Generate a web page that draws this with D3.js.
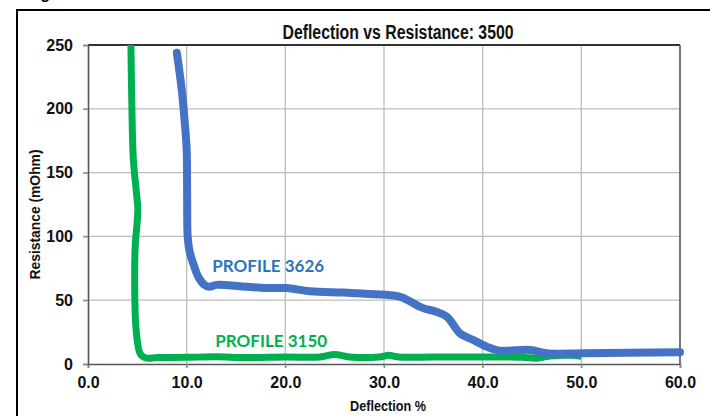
<!DOCTYPE html>
<html>
<head>
<meta charset="utf-8">
<script src="https://cdn.jsdelivr.net/npm/d3@7"></script>
<style>
  body { margin: 0; background: #fff; }
  svg { display: block; }
</style>
</head>
<body>
<div id="chart"></div>
<script>
// Chart values
var title = "Deflection vs Resistance: 3500";
var xTicks = [0, 10, 20, 30, 40, 50, 60];
var yTicks = [0, 50, 100, 150, 200, 250];

// PROFILE 3150 (green)
var greenX = [4.35, 4.45, 4.6, 4.9, 5.05, 4.95, 4.8, 4.75, 4.9, 5.3, 5.9, 7, 10, 13, 16, 20, 23.5, 25, 26.5, 29.5, 30.5, 31.5, 35, 40, 44, 45.5, 47, 49, 50];
var greenY = [250, 200, 160, 135, 122, 108, 95, 50, 25, 8, 4.7, 5, 5.2, 5.6, 5, 5.5, 5.5, 7.5, 5.5, 5.5, 6.8, 5.5, 5.5, 5.5, 5.3, 4.6, 6.5, 6.8, 6];

// PROFILE 3626 (blue)
var blueX = [9.0, 9.5, 9.8, 10.0, 10.05, 10.1, 10.3, 10.7, 11.2, 11.8, 12.3, 13.0, 15.4, 18.1, 20.1, 22.5, 25.9, 28.2, 30.9, 31.9, 33.9, 35.3, 36.4, 37.7, 39.0, 40.4, 41.7, 44.8, 46.5, 50.2, 60];
var blueY = [244, 215, 190, 168, 130, 100, 88, 78, 68, 62, 60.5, 62, 61, 59.5, 59.5, 57, 56, 55, 53.7, 52, 44, 41, 37, 24, 19, 13.6, 10.5, 11, 8.4, 8.4, 9.2];

var seriesLabels = ["PROFILE 3626", "PROFILE 3150"];

var svgWidth = 710, svgHeight = 416;
var margin = { top: 45, right: 30, bottom: 52, left: 88 };
var width = 680 - margin.left;
var height = 364 - margin.top;

var svg = d3.select("#chart")
    .append("svg")
    .attr("width", svgWidth)
    .attr("height", svgHeight);

// outer frame (cut off at right and bottom)
svg.append("rect")
    .attr("x", 17).attr("y", 10)
    .attr("width", 720).attr("height", 440)
    .attr("fill", "none")
    .attr("stroke", "#000")
    .attr("stroke-width", 2);

// leftover descender of a caption above the frame
svg.append("text")
    .attr("x", 50).attr("y", -1)
    .attr("text-anchor", "end")
    .style("font-family", "Liberation Sans, Arial, sans-serif")
    .style("font-weight", "bold")
    .style("font-size", "16px")
    .text("Fig");

var g = svg.append("g")
    .attr("transform", "translate(" + margin.left + "," + margin.top + ")");

var xScale = d3.scaleLinear().domain([0, 60]).range([0, width]);
var yScale = d3.scaleLinear().domain([0, 250]).range([height, 0]);

var axisFont = "'Liberation Sans Narrow', 'Arial Narrow', 'Liberation Sans', sans-serif";

// gridlines
g.append("g")
    .selectAll("line")
    .data(xTicks.slice(1, -1))
    .join("line")
    .attr("x1", function(d) { return xScale(d); })
    .attr("x2", function(d) { return xScale(d); })
    .attr("y1", 0).attr("y2", height + 4)
    .attr("stroke", "#bdbdbd").attr("stroke-width", 1.3);

g.append("g")
    .selectAll("line")
    .data(yTicks.slice(1, -1))
    .join("line")
    .attr("x1", -5).attr("x2", width)
    .attr("y1", function(d) { return yScale(d); })
    .attr("y2", function(d) { return yScale(d); })
    .attr("stroke", "#bdbdbd").attr("stroke-width", 1.3);

// frame of plot
g.append("line").attr("x1", 0).attr("x2", width).attr("y1", 0).attr("y2", 0)
    .attr("stroke", "#333").attr("stroke-width", 2);
g.append("line").attr("x1", width).attr("x2", width).attr("y1", 0).attr("y2", height)
    .attr("stroke", "#555").attr("stroke-width", 1.6);

// axes
var xAxis = d3.axisBottom(xScale)
    .tickValues(xTicks)
    .tickFormat(d3.format(".1f"))
    .tickSize(4)
    .tickPadding(9);
var xAxisGroup = g.append("g")
    .attr("transform", "translate(0," + height + ")")
    .call(xAxis);

var yAxis = d3.axisLeft(yScale)
    .tickValues(yTicks)
    .tickSize(5)
    .tickPadding(10);
var yAxisGroup = g.append("g").call(yAxis);

[xAxisGroup, yAxisGroup].forEach(function(ax) {
    ax.select(".domain").attr("stroke", "#555").attr("stroke-width", 1.6);
    ax.selectAll(".tick line").attr("stroke", "#888").attr("stroke-width", 1.3);
    ax.selectAll("text")
        .style("font-family", axisFont)
        .style("font-weight", "bold")
        .style("font-size", "16px")
        .attr("fill", "#111");
});

// title and axis titles (squeezed to look like a narrow face)
svg.append("text")
    .attr("x", 398).attr("y", 39)
    .attr("text-anchor", "middle")
    .attr("textLength", 231)
    .attr("lengthAdjust", "spacingAndGlyphs")
    .style("font-family", axisFont)
    .style("font-weight", "bold")
    .style("font-size", "20px")
    .attr("fill", "#111")
    .text(title);

svg.append("text")
    .attr("x", 388).attr("y", 411)
    .attr("text-anchor", "middle")
    .attr("textLength", 76)
    .attr("lengthAdjust", "spacingAndGlyphs")
    .style("font-family", axisFont)
    .style("font-weight", "bold")
    .style("font-size", "15px")
    .attr("fill", "#111")
    .text("Deflection %");

svg.append("text")
    .attr("transform", "translate(40," + (margin.top + height / 2 + 10) + ") rotate(-90)")
    .attr("text-anchor", "middle")
    .attr("textLength", 130)
    .attr("lengthAdjust", "spacingAndGlyphs")
    .style("font-family", axisFont)
    .style("font-weight", "bold")
    .style("font-size", "15px")
    .attr("fill", "#111")
    .text("Resistance (mOhm)");

// series lines
var line = d3.line()
    .x(function(d) { return xScale(d[0]); })
    .y(function(d) { return yScale(d[1]); })
    .curve(d3.curveCatmullRom.alpha(0.5));

var greenData = d3.zip(greenX, greenY);
var blueData = d3.zip(blueX, blueY);

g.append("path")
    .datum(greenData)
    .attr("d", line)
    .attr("fill", "none")
    .attr("stroke", "#00b050")
    .attr("stroke-width", 7)
    .attr("stroke-linejoin", "round")
    .attr("stroke-linecap", "butt");

g.append("path")
    .datum(blueData)
    .attr("d", line)
    .attr("fill", "none")
    .attr("stroke", "#4472c4")
    .attr("stroke-width", 8)
    .attr("stroke-linejoin", "round")
    .attr("stroke-linecap", "round");

// series labels
var labelFont = "Lato, 'Open Sans', sans-serif";
g.append("text")
    .attr("x", xScale(12.6)).attr("y", yScale(72))
    .style("font-family", labelFont)
    .style("font-weight", "bold")
    .style("font-size", "17px")
    .attr("fill", "#2e75b6")
    .text(seriesLabels[0]);

g.append("text")
    .attr("x", xScale(12.9)).attr("y", yScale(13))
    .style("font-family", labelFont)
    .style("font-weight", "bold")
    .style("font-size", "17px")
    .attr("fill", "#00b050")
    .text(seriesLabels[1]);
</script>
</body>
</html>
